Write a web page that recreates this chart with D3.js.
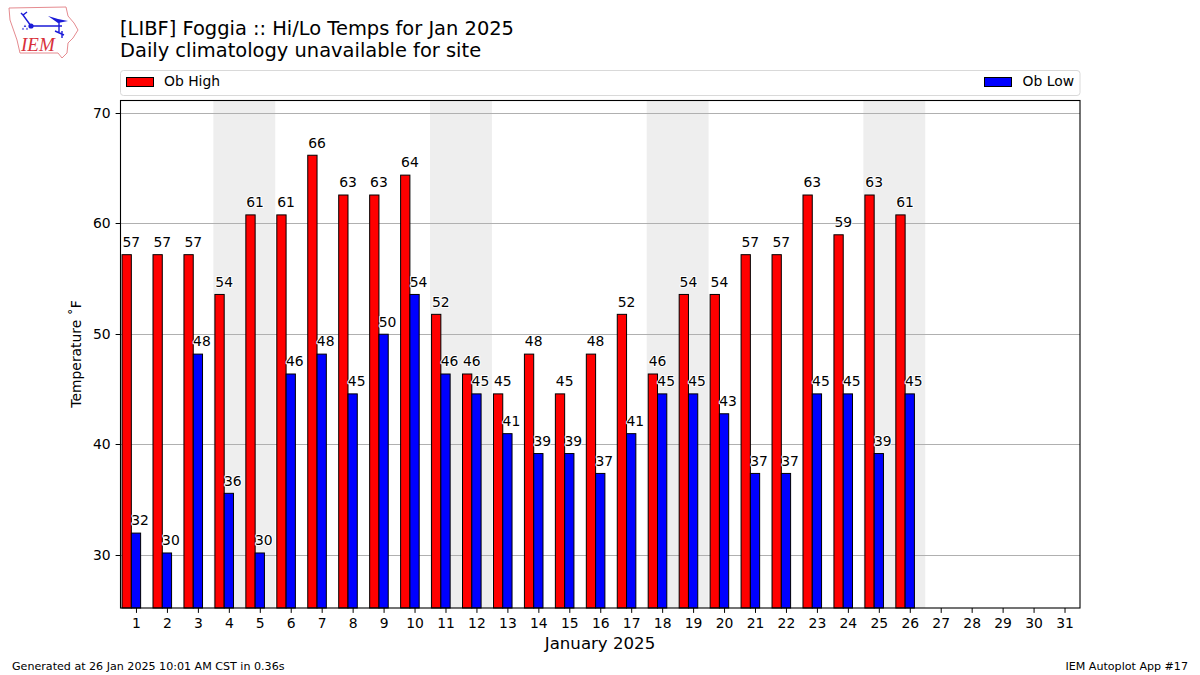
<!DOCTYPE html>
<html><head><meta charset="utf-8">
<script src="https://cdnjs.cloudflare.com/ajax/libs/d3/7.8.5/d3.min.js"></script>
<style>html,body{margin:0;padding:0;background:#fff}svg{display:block}text{font-family:"DejaVu Sans",sans-serif;fill:#000}</style>
</head><body><svg id="c" width="1200" height="675"></svg>
<script>
const days = d3.range(1, 32);
const highDays = d3.range(1, 27);
const highs = [57.2,57.2,57.2,53.6,60.8,60.8,66.2,62.6,62.6,64.4,51.8,46.4,44.6,48.2,44.6,48.2,51.8,46.4,53.6,53.6,57.2,57.2,62.6,59,62.6,60.8];
const lows = [32,30.2,48.2,35.6,30.2,46.4,48.2,44.6,50,53.6,46.4,44.6,41,39.2,39.2,37.4,41,44.6,44.6,42.8,37.4,37.4,44.6,44.6,39.2,44.6];
const weekends = [[3.5,5.5],[10.5,12.5],[17.5,19.5],[24.5,26.5]];
const yTicks = [30,40,50,60,70];
const titleLines = ["[LIBF] Foggia :: Hi/Lo Temps for Jan 2025","Daily climatology unavailable for site"];

const svg = d3.select("#c");
const L=120.5,R=1080,T=100,B=608;
const x = d3.scaleLinear().domain([0.5,31.5]).range([L,R]);
const y = d3.scaleLinear().domain([25.22,71.2]).range([B,T]);
const snap = v => Math.floor(y(v))+.5;
const bw = x(0.3)-x(0);

// logo
const logo = svg.append("g");
logo.append("path").attr("d","M9 8L66 7L68 16L74 23L78 30L73 38L68 43L67 53L62 58L58 53L20 53L17 40L10 20Z")
 .attr("fill","none").attr("stroke","#e58b90").attr("stroke-width",1);
logo.append("path").attr("d","M31 26L62 26M31 26L23 15M21 13L23 15L27 12M59 22L59 32M55 31L64 35M62 31L62 38")
 .attr("fill","none").attr("stroke","#1b1bd8").attr("stroke-width",1.4);
logo.append("path").attr("d","M48 16L58 19L68 21L58 23Z").attr("fill","#1b1bd8");
logo.append("circle").attr("cx",31).attr("cy",26).attr("r",2.6).attr("fill","#1b1bd8");
logo.append("path").attr("d","M25 24.5L26.3 27L23.7 27ZM23 27.5L24.2 29.5L21.8 29.5ZM27 27.5L28.2 29.5L25.8 29.5Z").attr("fill","#3a3ad8");
logo.append("text").attr("x",21).attr("y",51).attr("font-size",19).attr("font-style","italic")
 .style("font-family","'Liberation Serif',serif").style("fill","#d8303a").text("IEM");

// titles
titleLines.forEach((t,i)=>svg.append("text").attr("x",120).attr("y",35+i*22).attr("font-size",19.44).text(t));

// legend
svg.append("rect").attr("x",120.5).attr("y",70.5).attr("width",959.5).attr("height",25).attr("rx",3)
 .attr("fill","#fff").attr("stroke","#d9d9d9");
svg.append("rect").attr("x",126.5).attr("y",77.5).attr("width",27).attr("height",9).attr("fill","#f00").attr("stroke","#000").attr("stroke-width",1);
svg.append("text").attr("x",164).attr("y",86).attr("font-size",13.9).text("Ob High");
svg.append("rect").attr("x",984.5).attr("y",77.5).attr("width",27).attr("height",9).attr("fill","#00f").attr("stroke","#000").attr("stroke-width",1);
svg.append("text").attr("x",1074).attr("y",86).attr("font-size",13.9).attr("text-anchor","end").text("Ob Low");

// shading
svg.selectAll("rect.we").data(weekends).join("rect").attr("class","we")
 .attr("x",d=>x(d[0])).attr("width",d=>x(d[1])-x(d[0])).attr("y",T).attr("height",B-T).attr("fill","#eeeeee");

// grid
svg.selectAll("line.g").data(yTicks).join("line").attr("class","g")
 .attr("x1",L).attr("x2",R).attr("y1",snap).attr("y2",snap)
 .attr("stroke","#b0b0b0").attr("stroke-width",1);

// bars
svg.selectAll("rect.h").data(highs).join("rect").attr("class","h")
 .attr("x",(d,i)=>x(highDays[i]-0.45)).attr("width",bw).attr("y",d=>y(d)).attr("height",d=>B-y(d))
 .attr("fill","#f00").attr("stroke","#000").attr("stroke-width",1);
svg.selectAll("rect.l").data(lows).join("rect").attr("class","l")
 .attr("x",(d,i)=>x(highDays[i]-0.15)).attr("width",bw).attr("y",d=>y(d)).attr("height",d=>B-y(d))
 .attr("fill","#00f").attr("stroke","#000").attr("stroke-width",1);

// value labels
const lab=(data,off,cls)=>svg.selectAll("text."+cls).data(data).join("text").attr("class",cls)
 .attr("x",(d,i)=>x(highDays[i]+off)).attr("y",d=>y(d)-7.7).attr("text-anchor","middle").attr("font-size",13.9)
 .attr("stroke","#fff").attr("stroke-width",2).attr("paint-order","stroke").attr("stroke-linejoin","round")
 .text(d=>Math.round(d));
lab(highs,-0.15,"hl");
lab(lows,0.13,"ll");

// frame
svg.append("rect").attr("x",L).attr("y",T+.5).attr("width",R-L).attr("height",B-T-.5).attr("fill","none").attr("stroke","#000").attr("stroke-width",1.1);

// axes
const xa = svg.append("g").attr("transform",`translate(0,${B})`).call(d3.axisBottom(x).tickValues(days).tickFormat(d3.format("d")).tickSize(4.9).tickPadding(5));
const ya = svg.append("g").attr("transform",`translate(${L},0)`).call(d3.axisLeft(y).tickValues(yTicks).tickSize(4.9).tickPadding(4.9));
ya.selectAll(".tick").attr("transform",d=>`translate(0,${snap(d)})`);
[xa,ya].forEach(a=>{a.select(".domain").remove();a.selectAll("text").attr("font-size",13.9).style("font-family",'"DejaVu Sans",sans-serif');a.selectAll("line").attr("stroke","#000").attr("stroke-width",1);});

// axis titles
svg.append("text").attr("x",600).attr("y",649).attr("text-anchor","middle").attr("font-size",16.6).text("January 2025");
svg.append("text").attr("transform","translate(81,354) rotate(-90)").attr("text-anchor","middle").attr("font-size",13.9).text("Temperature ˚F");

// footer
svg.append("text").attr("x",12).attr("y",670).attr("font-size",11.1).text("Generated at 26 Jan 2025 10:01 AM CST in 0.36s");
svg.append("text").attr("x",1188).attr("y",670).attr("font-size",11.1).attr("text-anchor","end").text("IEM Autoplot App #17");
</script></body></html>
